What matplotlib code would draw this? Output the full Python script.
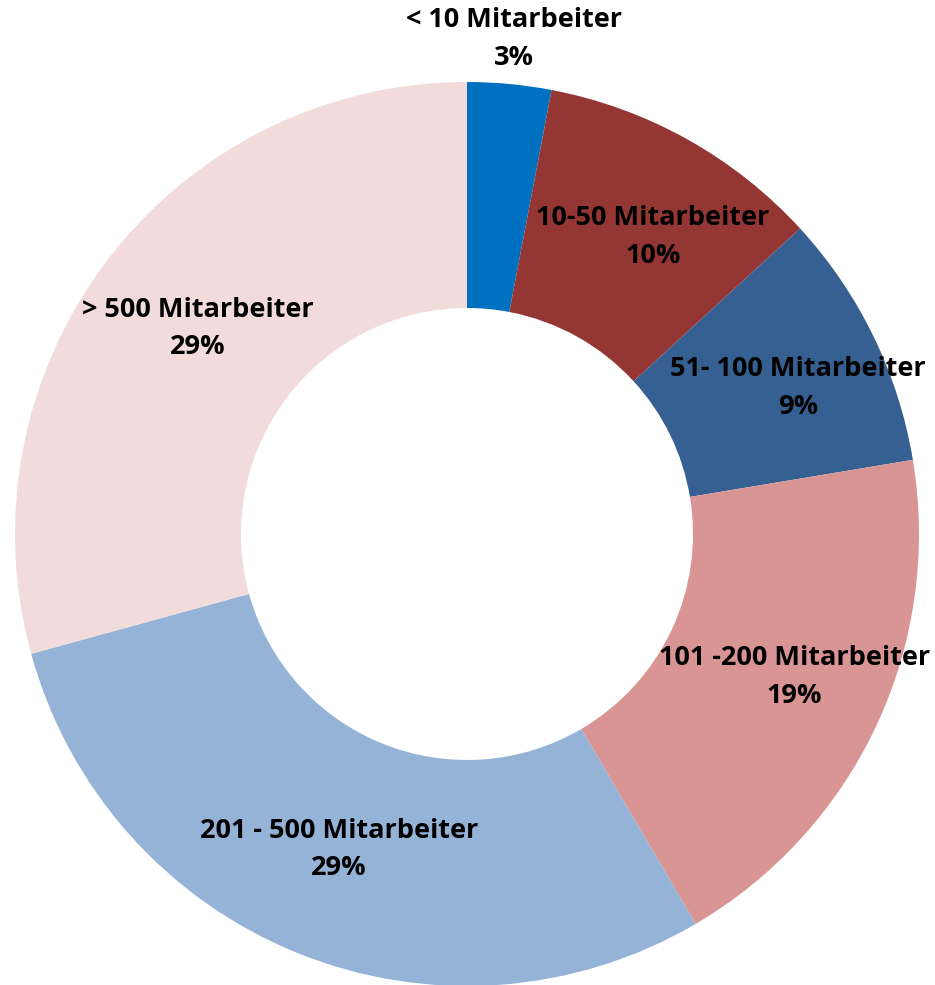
import numpy as np
import matplotlib
matplotlib.use("Agg")
import matplotlib.pyplot as plt

# Data
categories = ["< 10 Mitarbeiter", "10-50 Mitarbeiter", "51- 100 Mitarbeiter",
              "101 -200 Mitarbeiter", "201 - 500 Mitarbeiter", "> 500 Mitarbeiter"]
shares = [3.0, 10.2, 9.2, 19.2, 29.2, 29.3]
pct_labels = ["3%", "10%", "9%", "19%", "29%", "29%"]
colors = ["#0070C0", "#943634", "#366092", "#D99594", "#95B3D7", "#F2DCDB"]

# label placement: distance from centre (fraction of outer radius) and angle nudge (deg, clockwise)
label_radius = [1.10, 0.775, 0.80, 0.79, 0.753, 0.75]
label_shift = [0, 2.9, 2.2, -1.5, 0, 0]

W, H = 935, 985
cx, cy, R = 467, 534, 452

fig = plt.figure(figsize=(W / 100, H / 100), dpi=100)
ax = fig.add_axes([(cx - R) / W, (H - cy - R) / H, 2 * R / W, 2 * R / H])

wedges, _ = ax.pie(shares, colors=colors, startangle=90, counterclock=False,
                   radius=1, wedgeprops=dict(width=0.5, linewidth=0))
ax.set_xlim(-1, 1)
ax.set_ylim(-1, 1)
ax.set_aspect("equal")
ax.axis("off")

# Place labels at the mid angle of each wedge
for w, cat, pct, r, s in zip(wedges, categories, pct_labels, label_radius, label_shift):
    mid = np.deg2rad((w.theta1 + w.theta2) / 2 - s)
    x, y = r * np.cos(mid), r * np.sin(mid)
    ax.text(x, y, f"{cat}\n{pct}", ha="center", va="center",
            fontsize=19.5, fontweight="bold", family="Open Sans",
            linespacing=1.58, color="black")

fig.savefig("out.png", dpi=100)
